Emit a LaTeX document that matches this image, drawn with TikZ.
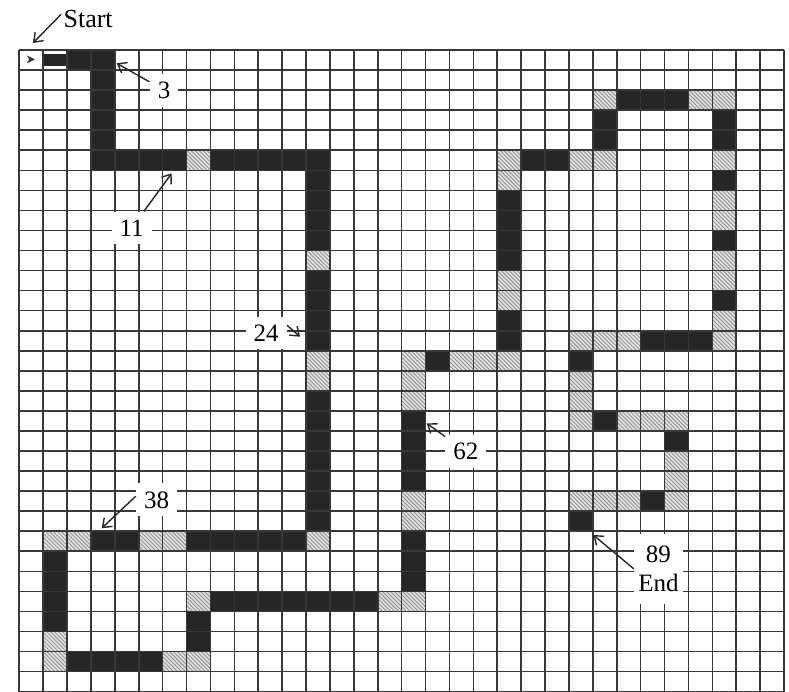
\documentclass[tikz,border=0pt]{standalone}
\usepackage{fontspec}
\setmainfont{Liberation Serif}
\usetikzlibrary{arrows.meta, patterns.meta}
\tikzset{grid line/.style={draw=black!78,line width=0.8pt},
    path cell/.style={fill=black!85},
    hatch cell/.style={preaction={fill=gray!20},
        pattern={Lines[angle=-45,distance=1.4pt,line width=0.45pt]},pattern color=gray!90},
    count label/.style={fill=white,inner sep=4pt,font=\fontsize{12.5}{14.5}\selectfont},
    pointer/.style={draw=black!85,line width=0.7pt,-{Straight Barb[length=4pt,width=6pt]}}}
\begin{document}
\begin{tikzpicture}[x=11.95pt, y=-10.025pt]

  \useasboundingbox (-0.8075,-2.494) rectangle (32.205,32.02);

  % Black runs of the path
  \foreach \xa/\ya/\xb/\yb in {2/0/4/1, 3/1/4/6, 4/5/7/6, 8/5/13/6,
                               12/6/13/10, 12/11/13/15, 12/17/13/24,
                               3/24/5/25, 7/24/12/25, 1/25/2/29, 2/30/6/31,
                               7/28/8/30, 8/27/15/28, 16/24/17/27, 16/18/17/22,
                               17/15/18/16, 20/13/21/15, 20/7/21/11, 21/5/23/6,
                               24/3/25/5, 25/2/28/3, 29/3/30/5, 29/6/30/7,
                               29/9/30/10, 29/12/30/13, 26/14/29/15, 23/15/24/16,
                               24/18/25/19, 27/19/28/20, 26/22/27/23, 23/23/24/24}
    \fill[path cell] (\xa,\ya) rectangle (\xb,\yb);

  % the first step is only half a cell high
  \fill[path cell] (1,0.22) rectangle (2,0.78);

  % Hatched cells
  \foreach \c/\r in {7/5, 12/10, 12/15, 12/16, 12/24, 1/24, 2/24, 5/24, 6/24,
                     1/29, 1/30, 6/30, 7/30, 7/27, 15/27, 16/27, 16/22, 16/23,
                     16/15, 16/16, 16/17, 18/15, 19/15, 20/15, 20/11, 20/12,
                     20/5, 20/6, 23/5, 24/5, 24/2, 28/2, 29/2, 29/5, 29/7, 29/8,
                     29/10, 29/11, 29/13, 29/14, 23/14, 24/14, 25/14, 23/16,
                     23/17, 23/18, 25/18, 26/18, 27/18, 27/20, 27/21, 27/22,
                     25/22, 24/22, 23/22}
    \path[hatch cell] (\c,\r) rectangle ++(1,1);

  % Then the grid on top
  \foreach \i in {0,...,32} {
    \draw[grid line] (\i,0) -- (\i,32);
    \draw[grid line] (0,\i) -- (32,\i);
  }

  % start mark
  \fill[black!80] (0.31,0.27) -- (0.66,0.47) -- (0.31,0.66) -- (0.42,0.47) -- cycle;

  % Labels
  \node[inner sep=1pt,font=\fontsize{13}{15}\selectfont] (start) at (2.88,-1.546) {Start};
  \node[count label] (lab3) at (6.06,2.0) {3};
  \node[count label] (lab11) at (4.703,8.878) {11};
  \node[count label] (lab24) at (10.33,14.11) {24};
  \node[count label] (lab38) at (5.749,22.44) {38};
  \node[count label] (lab62) at (18.69,20.04) {62};
  \node[count label, inner xsep=2pt, inner ysep=6pt, align=center] (lab89) at (26.74,25.88) {89\\End};

  % Arrow ends
  \foreach \px/\py/\name in {0.573/-0.349/starttip, 4.075/0.663/tip3,
                             6.377/6.15/tip11, 11.745/14.3/tip24,
                             3.448/23.855/tip38, 17.05/18.62/tip62,
                             24.02/24.19/tip89}
    \coordinate (\name) at (\px,\py);

  \draw[pointer] (start.170) -- (starttip);
  \draw[pointer] (lab3) -- (tip3);
  \draw[pointer] (lab11) -- (tip11);
  \draw[pointer] (lab24.20) -- (tip24);
  \draw[pointer] (lab38.170) -- (tip38);
  \draw[pointer] (lab62) -- (tip62);
  \draw[pointer] (lab89.west) -- (tip89);

\end{tikzpicture}
\end{document}
